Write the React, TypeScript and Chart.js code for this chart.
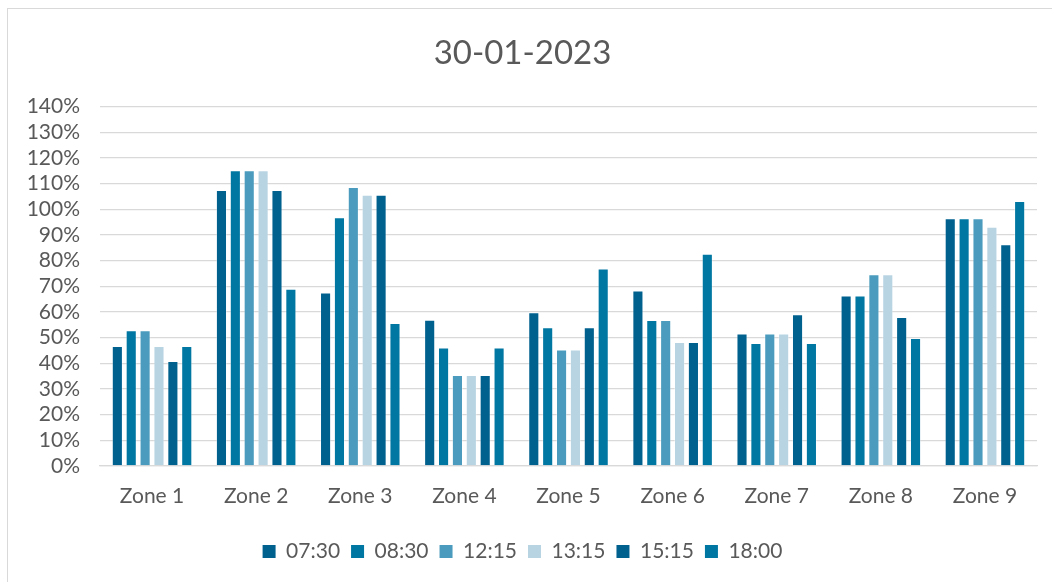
import React, { useEffect, useRef } from "react";
import { Chart, registerables } from "chart.js";

Chart.register(...registerables);

const zones = ["Zone 1", "Zone 2", "Zone 3", "Zone 4", "Zone 5", "Zone 6", "Zone 7", "Zone 8", "Zone 9"];
const seriesNames = ["07:30", "08:30", "12:15", "13:15", "15:15", "18:00"];
const s0730 = [46.7, 107.5, 67.6, 57.0, 59.9, 68.4, 51.6, 66.4, 96.5];
const s0830 = [52.9, 115.2, 96.9, 46.2, 54.0, 56.9, 47.9, 66.4, 96.5];
const s1215 = [52.9, 115.2, 108.7, 35.4, 45.4, 56.9, 51.6, 74.7, 96.5];
const s1315 = [46.7, 115.2, 105.7, 35.4, 45.4, 48.3, 51.6, 74.7, 93.2];
const s1515 = [40.9, 107.5, 105.7, 35.4, 54.0, 48.3, 59.1, 58.0, 86.4];
const s1800 = [46.7, 69.0, 55.7, 46.2, 76.9, 82.7, 47.9, 49.9, 103.2];
const seriesValues = [s0730, s0830, s1215, s1315, s1515, s1800];
const seriesColors = ["#00618F", "#0077A2", "#4A9BBD", "#B8D4E3", "#00618F", "#0077A2"];
const yMin = 0;
const yMax = 140;
const yStep = 10;

const FONT = "Lato, 'Open Sans', sans-serif";
const TEXT = "#595959";
const GRID = "#D9D9D9";

export default function App() {
  const ref = useRef<HTMLCanvasElement | null>(null);

  useEffect(() => {
    if (!ref.current) return;
    const chart = new Chart(ref.current, {
      type: "bar",
      data: {
        labels: zones,
        datasets: seriesNames.map((name, i) => ({
          label: name,
          data: seriesValues[i],
          backgroundColor: seriesColors[i],
          borderColor: "rgba(255,255,255,0.35)",
          borderWidth: 1,
          categoryPercentage: 0.8,
          barPercentage: 0.8,
        })),
      },
      options: {
        animation: false,
        responsive: false,
        maintainAspectRatio: false,
        layout: { padding: { left: 0, right: 15, top: 0, bottom: 10 } },
        plugins: {
          title: {
            display: true,
            text: "30-01-2023",
            color: TEXT,
            font: { family: FONT, size: 33, weight: "normal" },
            padding: { top: 25, bottom: 33 },
          },
          legend: {
            position: "bottom",
            labels: {
              color: TEXT,
              font: { family: FONT, size: 21 },
              boxWidth: 13,
              boxHeight: 13,
              padding: 11,
              generateLabels: (c: any) =>
                c.data.datasets.map((d: any, i: number) => ({
                  text: d.label,
                  fillStyle: d.backgroundColor,
                  strokeStyle: d.backgroundColor,
                  lineWidth: 0,
                  hidden: false,
                  datasetIndex: i,
                  fontColor: TEXT,
                })),
            },
          },
          tooltip: { enabled: false },
        },
        scales: {
          x: {
            afterFit: (s: any) => {
              s.height = 64;
            },
            grid: { display: false, drawTicks: false },
            border: { color: GRID, width: 1.3 },
            ticks: { color: TEXT, font: { family: FONT, size: 21 }, padding: 18 },
          },
          y: {
            min: yMin,
            max: yMax,
            afterFit: (s: any) => {
              s.width = 92;
            },
            grid: { color: GRID, lineWidth: 1.3, drawTicks: false },
            border: { display: false },
            ticks: {
              stepSize: yStep,
              autoSkip: false,
              color: TEXT,
              font: { family: FONT, size: 21 },
              padding: 20,
              callback: (v: any) => v + "%",
            },
          },
        },
      },
    });
    return () => chart.destroy();
  }, []);

  return (
    <div
      style={{
        position: "fixed",
        left: 7,
        top: 8,
        width: 1045,
        height: 574,
        borderLeft: "1px solid #D9D9D9",
        borderTop: "1px solid #D9D9D9",
        boxSizing: "border-box",
        background: "#fff",
      }}
    >
      <canvas ref={ref} width={1044} height={573} style={{ display: "block" }} />
    </div>
  );
}
